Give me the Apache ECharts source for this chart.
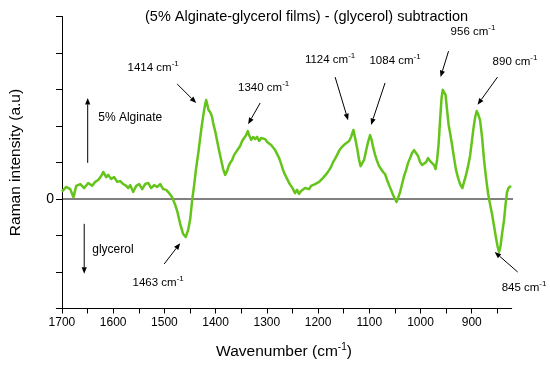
<!DOCTYPE html>
<html><head><meta charset="utf-8">
<script src="https://cdn.jsdelivr.net/npm/echarts@6/dist/echarts.min.js"></script>
<style>html,body{margin:0;padding:0;background:#fff}#main{width:550px;height:367px}</style>
</head><body><div id="main"></div><script>
const wavenumber = [
1700,1691.6,1683.8,1677.4,1672.1,1664.3,1656.5,1648.7,1640.9,1635,
1629.2,1623.3,1619.4,1613.6,1609.7,1603.8,1598,1592.1,1586.2,1580.4,
1574.5,1570.6,1566.7,1560.9,1555,1549.2,1543.3,1537.5,1531.6,1525.8,
1519.9,1514.1,1508.2,1502.3,1496.5,1490.6,1484.8,1478.9,1475,1469.2,
1463.3,1458.4,1453.6,1449.6,1445.8,1441.9,1438,1433.5,1430.2,1426.8,
1423.3,1420.4,1418.4,1416.5,1413.9,1410.6,1407.3,1404.8,1400.9,1397,
1393.1,1389.2,1385.3,1381.4,1377.5,1374.6,1371.6,1367.7,1363.8,1359.9,
1356,1352.1,1348.2,1344.3,1340.4,1337.1,1334.6,1330.6,1326.7,1322.8,
1318.9,1315,1311.1,1307.2,1303.3,1299.4,1295.5,1291.6,1287.7,1283.8,
1279.9,1276,1272.1,1268.2,1264.3,1260.4,1256.6,1252.7,1248.8,1244.9,
1241,1237.1,1233.2,1229.3,1225.4,1221.5,1217.5,1213.6,1209.7,1205.8,
1201.9,1198,1194.1,1190.2,1186.3,1182.4,1178.5,1174.6,1170.7,1166.8,
1162.8,1158.9,1155,1151.1,1147.2,1143.3,1139.4,1135.5,1131,1127.7,
1123.8,1119.9,1117,1114.1,1110.2,1106.3,1102.4,1098.4,1095.5,1092.6,
1088.7,1084.8,1080.9,1077,1073.1,1069.2,1065.3,1061.4,1057.5,1053.6,
1049.7,1046.8,1043.8,1039.9,1036,1032.1,1028.2,1024.3,1020.4,1016.5,
1012.6,1008.7,1004.8,1000.9,997,993.1,989.1,985.2,981.3,977.4,
973.5,970.6,967.7,964.8,961.8,958.9,956.6,954,951.1,948.2,
945.3,942.3,938.4,934.5,930.6,926.7,922.8,918.3,915,911.1,
907.2,903.3,899.4,896.5,893.6,890.3,887.7,883.8,879.9,876,
872.1,868.2,864.3,860.4,856.5,852.6,849.7,846.7,843.8,840.9,
837,834.1,831.1,828.2,825.3,823.3];
const intensity = [
0.20,0.33,0.27,0.05,0.36,0.41,0.30,0.44,0.36,0.47,
0.52,0.63,0.74,0.60,0.66,0.55,0.60,0.47,0.49,0.41,
0.36,0.30,0.38,0.19,0.36,0.41,0.27,0.41,0.44,0.30,
0.38,0.33,0.41,0.27,0.25,0.16,0.05,-0.16,-0.33,-0.68,
-0.96,-1.04,-0.85,-0.55,-0.03,0.38,0.85,1.29,1.67,2.03,
2.36,2.60,2.71,2.60,2.44,2.38,2.27,2.08,1.86,1.59,
1.32,1.07,0.82,0.66,0.77,0.90,0.99,1.07,1.21,1.29,
1.34,1.45,1.59,1.67,1.75,1.86,1.75,1.62,1.70,1.64,
1.70,1.59,1.67,1.62,1.64,1.56,1.53,1.48,1.51,1.34,
1.23,1.12,0.96,0.79,0.66,0.55,0.44,0.36,0.27,0.16,
0.25,0.14,0.22,0.19,0.30,0.33,0.27,0.36,0.33,0.41,
0.38,0.47,0.52,0.58,0.60,0.71,0.79,0.88,1.01,1.10,
1.21,1.32,1.40,1.45,1.51,1.56,1.59,1.70,1.89,1.67,
1.40,1.07,0.90,0.93,1.07,1.32,1.56,1.75,1.62,1.42,
1.21,1.04,0.90,0.82,0.74,0.68,0.52,0.38,0.25,0.11,
0.00,-0.08,0.03,0.19,0.41,0.63,0.79,0.99,1.12,1.26,
1.34,1.26,1.18,1.01,0.93,0.90,1.01,1.12,1.04,1.01,
0.93,0.82,1.07,1.48,2.16,2.77,2.99,2.96,2.85,2.44,
2.05,1.81,1.48,1.12,0.79,0.58,0.41,0.30,0.47,0.66,
0.90,1.18,1.62,1.95,2.22,2.41,2.33,2.16,1.70,1.07,
0.58,0.16,-0.14,-0.41,-0.74,-1.07,-1.29,-1.45,-1.29,-0.96,
-0.58,-0.16,0.19,0.30,0.25,0.36];
const xTickValues = [1700,1650,1600,1550,1500,1450,1400,1350,1300,1250,1200,1150,1100,1050,1000,950,900,850];
const xLabelValues = [1700,1600,1500,1400,1300,1200,1100,1000,900];
const zeroLineExtent = [1700, 786];

// Peak annotations: label, text anchor [wavenumber, intensity], arrow from, arrow to
const peakNames = ['1414','1340','1124','1084','956','890','845','1463'];
const peakTextAt = [[1521.9,3.59],[1306.2,3.04],[1176.5,3.81],[1049.7,3.78],[897.5,4.58],[815.5,3.75],[797.9,-2.44],[1512.1,-2.30]];
const peakArrowFrom = [[1475,3.15],[1313.1,2.63],[1166.7,3.34],[1069.2,3.18],[945.3,4.05],[849.7,3.34],[810.3,-2.0],[1500.4,-1.78]];
const peakArrowTo = [[1437.9,2.63],[1336.5,2.05],[1141.4,2.16],[1096.5,2.03],[960.9,3.34],[888.7,2.58],[855.2,-1.45],[1469.2,-1.21]];
// side notes
const sideNotes = ['5% Alginate','glycerol'];
const sideTextAt = [[1629.2,2.22],[1640.9,-1.40]];
const sideArrowFrom = [[1649.7,0.99],[1656.5,-0.68]];
const sideArrowTo = [[1649.7,2.77],[1656.5,-2.05]];

const FONT = "'Liberation Sans', Arial, sans-serif";
const series = wavenumber.map((w,i)=>[w,intensity[i]]);

const chart = echarts.init(document.getElementById('main'), null, {renderer:'canvas'});
chart.setOption({
  animation:false,
  backgroundColor:'#fff',
  title:{text:'(5% Alginate-glycerol films) - (glycerol) subtraction', left:140, top:4,
    textStyle:{fontFamily:FONT, fontSize:14.5, fontWeight:'normal', color:'#000'}},
  grid:{left:56, right:38.3, top:16.5, bottom:58.5},
  xAxis:{type:'value', inverse:true, min:822, max:1711,
    name:'{a|Wavenumber (cm}{s|-1}{a|)}', nameLocation:'middle', nameGap:34,
    nameTextStyle:{rich:{a:{fontFamily:FONT,fontSize:15.5,color:'#000'}, s:{fontFamily:FONT,fontSize:10,color:'#000',padding:[0,0,9,0]}}},
    axisLine:{onZero:false, lineStyle:{color:'#000',width:1}},
    axisTick:{show:true, customValues:xTickValues, length:5, lineStyle:{color:'#000'}},
    axisLabel:{customValues:xLabelValues, formatter:v=>String(v), margin:8, fontFamily:FONT, fontSize:12, color:'#000'},
    splitLine:{show:false}},
  yAxis:{type:'value', min:-3, max:5, interval:1, offset:-5.7,
    name:'Raman intensity (a.u)', nameLocation:'middle', nameGap:38,
    nameTextStyle:{fontFamily:FONT, fontSize:15.5, color:'#000'},
    axisLine:{show:true, onZero:false, lineStyle:{color:'#000',width:1}},
    axisTick:{show:true, length:6, lineStyle:{color:'#000'}},
    axisLabel:{formatter:v=> v===0 ? '0' : '', margin:8, fontFamily:FONT, fontSize:14, color:'#000'},
    splitLine:{show:false}},
  series:[
    {type:'line', data:[[zeroLineExtent[0],0],[zeroLineExtent[1],0]], clip:false, symbol:'none', silent:true,
     lineStyle:{color:'#000', width:1}, z:1},
    {type:'line', data:series, symbol:'none', clip:false, silent:true,
     lineStyle:{color:'#64c41a', width:2.5, join:'round'}, z:3}
  ]
});

function px(p){ return chart.convertToPixel({gridIndex:0}, p); }
function arrow(a,b){
  const p0 = px(a), p1 = px(b);
  const dx = p1[0]-p0[0], dy = p1[1]-p0[1], L = Math.hypot(dx,dy);
  const ux = dx/L, uy = dy/L, nx = -uy, ny = ux, hl = 6.5, hw = 2.6;
  const bx = p1[0]-ux*hl, by = p1[1]-uy*hl;
  return [
    {type:'line', silent:true, shape:{x1:p0[0],y1:p0[1],x2:bx,y2:by}, style:{stroke:'#000', lineWidth:1}, z:10},
    {type:'polygon', silent:true, shape:{points:[[p1[0],p1[1]],[bx+nx*hw,by+ny*hw],[bx-nx*hw,by-ny*hw]]}, style:{fill:'#000'}, z:10}
  ];
}
const g = [];
peakNames.forEach((n,i)=>{
  const t = px(peakTextAt[i]);
  g.push({type:'text', silent:true, x:t[0], y:t[1], z:10, style:{
    text:'{a|'+n+' cm}{s|-1}', align:'center', verticalAlign:'middle',
    rich:{a:{fontFamily:FONT, fontSize:11.5, fill:'#000'}, s:{fontFamily:FONT, fontSize:8, fill:'#000', padding:[0,0,8,0]}}}});
  g.push(...arrow(peakArrowFrom[i], peakArrowTo[i]));
});
sideNotes.forEach((n,i)=>{
  const t = px(sideTextAt[i]);
  g.push({type:'text', silent:true, x:t[0], y:t[1], z:10, style:{text:n, align:'left', verticalAlign:'middle',
    fontFamily:FONT, fontSize:12, fill:'#000'}});
  g.push(...arrow(sideArrowFrom[i], sideArrowTo[i]));
});
chart.setOption({graphic:{elements:g}});
</script></body></html>
